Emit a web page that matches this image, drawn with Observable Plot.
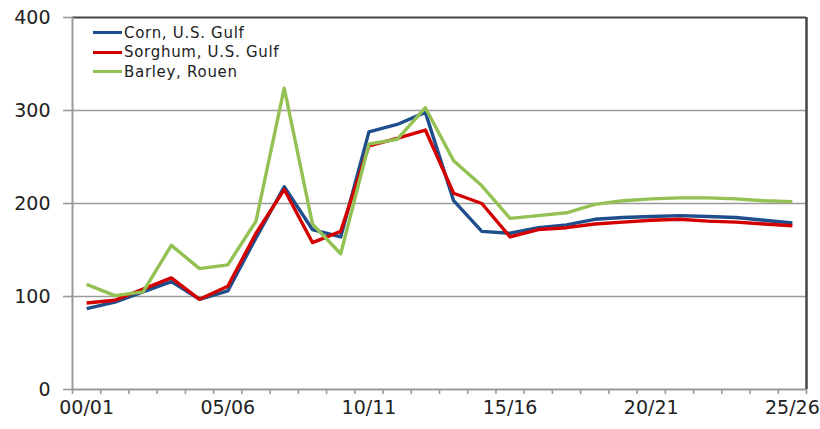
<!DOCTYPE html>
<html>
<head>
<meta charset="utf-8">
<script src="https://cdn.jsdelivr.net/npm/d3@7"></script>
<script src="https://cdn.jsdelivr.net/npm/@observablehq/plot@0.6"></script>
<style>
  html, body { margin: 0; padding: 0; background: #fff; }
  #wrap { position: relative; width: 820px; height: 429px; font-family: "DejaVu Sans", sans-serif; }
  #legend { position: absolute; left: 93px; top: 23px; }
  .row { display: flex; align-items: center; height: 19.5px; }
  .sw { width: 29px; height: 3px; margin-right: 2px; }
  .lb { font-size: 15px; letter-spacing: 0.7px; color: #222; }
</style>
</head>
<body>
<div id="wrap"></div>
<script>
const seasons = ["00/01","01/02","02/03","03/04","04/05","05/06","06/07","07/08","08/09","09/10",
  "10/11","11/12","12/13","13/14","14/15","15/16","16/17","17/18","18/19","19/20",
  "20/21","21/22","22/23","23/24","24/25","25/26"];
const labelSeasons = ["00/01","05/06","10/11","15/16","20/21","25/26"];
const yTicks = [0, 100, 200, 300, 400];
const gridValues = [100, 200, 300];

const seriesNames = ["Corn, U.S. Gulf", "Sorghum, U.S. Gulf", "Barley, Rouen"];
const seriesColors = ["#1f4e8c", "#d40000", "#94c153"];

const corn    = [87, 94, 105, 116, 97, 106, 163, 218, 172, 164, 277, 285, 298, 203, 170, 168, 174, 177, 183, 185, 186, 187, 186, 185, 182, 179];
const sorghum = [93, 96, 108, 120, 97, 111, 168, 215, 158, 170, 262, 270, 279, 211, 200, 164, 172, 174, 178, 180, 182, 183, 181, 180, 178, 176];
const barley  = [113, 101, 105, 155, 130, 134, 181, 324, 178, 146, 264, 269, 303, 246, 219, 184, 187, 190, 199, 203, 205, 206, 206, 205, 203, 202];

const allSeries = [corn, sorghum, barley];
const data = allSeries.flatMap((vals, s) =>
  vals.map((v, i) => ({ i, v, series: seriesNames[s] })));

const boundaries = d3.range(seasons.length + 1).map(k => k - 0.5);
const labelIdx = labelSeasons.map(s => seasons.indexOf(s));

const chart = Plot.plot({
  width: 820,
  height: 429,
  marginLeft: 72,
  marginRight: 14,
  marginTop: 17,
  marginBottom: 40,
  style: { fontFamily: "DejaVu Sans, sans-serif", background: "#fff", color: "#222" },
  x: { type: "linear", domain: [-0.5, seasons.length - 0.5], axis: null, label: null },
  y: { domain: [0, 400], axis: null, label: null },
  color: { domain: seriesNames, range: seriesColors },
  marks: [
    Plot.ruleY(gridValues, { stroke: "#9a9a9a", strokeWidth: 1.6 }),
    Plot.ruleY([0], { stroke: "#9a9a9a", strokeWidth: 2 }),
    Plot.ruleY([400], { stroke: "#444", strokeWidth: 2.2 }),
    Plot.ruleX([boundaries[0]], { stroke: "#9a9a9a", strokeWidth: 2 }),
    Plot.ruleX([boundaries[boundaries.length - 1]], { stroke: "#444", strokeWidth: 2.5 }),
    Plot.axisY({ ticks: yTicks, label: null, tickSize: 9, tickPadding: 13, fontSize: 19, stroke: "#9a9a9a", strokeWidth: 1.6, fill: "#222", tickFormat: d => d }),
    Plot.axisX({ ticks: boundaries, label: null, tickSize: 5, tickFormat: () => "", stroke: "#9a9a9a", strokeWidth: 1.6 }),
    Plot.axisX({ ticks: labelIdx, label: null, tickSize: 0, tickPadding: 11, fontSize: 19, fill: "#222", tickFormat: i => seasons[i] }),
    Plot.line(data, { x: "i", y: "v", z: "series", stroke: "series", strokeWidth: 3.4, strokeLinejoin: "round", strokeLinecap: "butt" })
  ]
});

const wrap = document.getElementById("wrap");
wrap.appendChild(chart);

const legend = document.createElement("div");
legend.id = "legend";
seriesNames.forEach((name, k) => {
  const row = document.createElement("div");
  row.className = "row";
  const sw = document.createElement("div");
  sw.className = "sw";
  sw.style.background = seriesColors[k];
  const lb = document.createElement("span");
  lb.className = "lb";
  lb.textContent = name;
  row.appendChild(sw);
  row.appendChild(lb);
  legend.appendChild(row);
});
wrap.appendChild(legend);
</script>
</body>
</html>
